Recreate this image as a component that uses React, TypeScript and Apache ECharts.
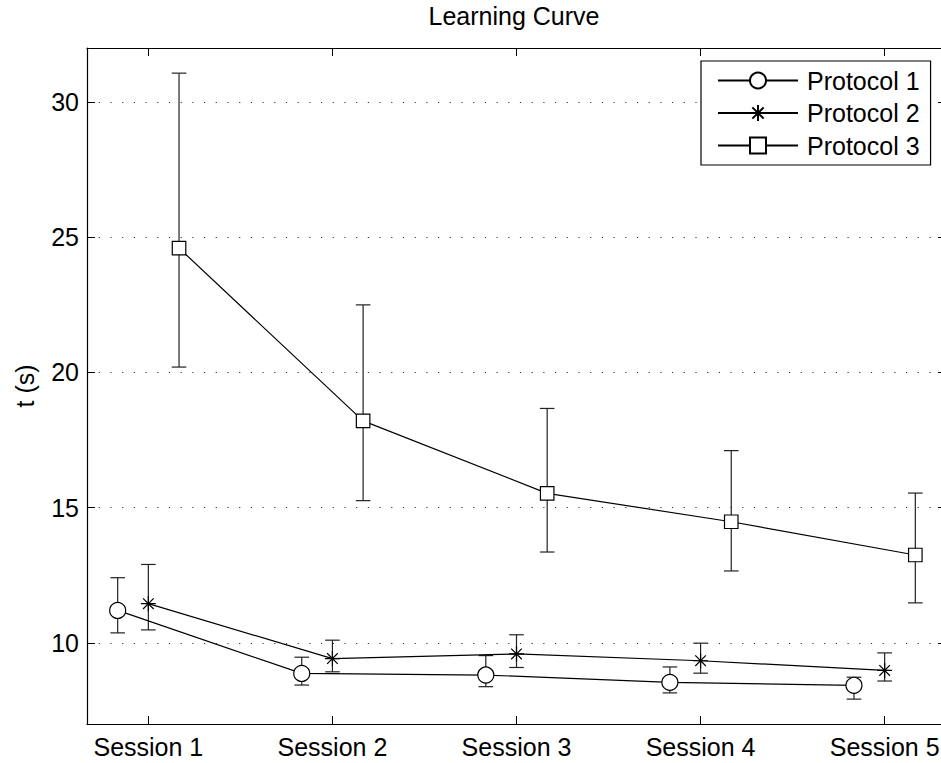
import React, { useEffect, useRef } from 'react';
import * as echarts from 'echarts';

const sessions = [1, 2, 3, 4, 5];
const sessionLabels = ['Session 1', 'Session 2', 'Session 3', 'Session 4', 'Session 5'];
const protocolNames = ['Protocol 1', 'Protocol 2', 'Protocol 3'];

const p1Mean = [11.2, 8.87, 8.81, 8.54, 8.43];
const p1Low = [10.37, 8.44, 8.38, 8.15, 7.92];
const p1High = [12.41, 9.47, 9.53, 9.11, 8.73];

const p2Mean = [11.45, 9.42, 9.59, 9.34, 8.98];
const p2Low = [10.48, 8.93, 9.09, 8.88, 8.59];
const p2High = [12.9, 10.1, 10.3, 9.99, 9.63];

const p3Mean = [24.6, 18.21, 15.53, 14.48, 13.25];
const p3Low = [20.2, 15.26, 13.36, 12.66, 11.48];
const p3High = [31.07, 22.5, 18.67, 17.11, 15.54];

const yTicks = [10, 15, 20, 25, 30];

const FONT = '"Liberation Sans", Arial, Helvetica, sans-serif';
const STAR = 'path://M0,-10L0,10M-10,0L10,0M-7.07,-7.07L7.07,7.07M-7.07,7.07L7.07,-7.07';

export default function App() {
  const ref = useRef<HTMLDivElement>(null);
  useEffect(() => {
    if (!ref.current) return;
    const chart = echarts.init(ref.current, null, { renderer: 'svg' });
    const means = [p1Mean, p2Mean, p3Mean];
    const lows = [p1Low, p2Low, p3Low];
    const highs = [p1High, p2High, p3High];
    const offsets = [-1 / 6, 0, 1 / 6];
    const symbols = ['circle', STAR, 'rect'];
    const sizes = [16, 15, 13.5];

    const series: any[] = [];
    protocolNames.forEach((name, i) => {
      series.push({
        type: 'custom',
        name: name + ' err',
        z: 2,
        silent: true,
        data: sessions.map((s, k) => [s + offsets[i], lows[i][k], highs[i][k]]),
        encode: { x: 0, y: [1, 2] },
        renderItem: (params: any, api: any) => {
          const x = api.value(0);
          const lo = api.coord([x, api.value(1)]);
          const hi = api.coord([x, api.value(2)]);
          const hw = 7.3;
          const st = { stroke: '#222', lineWidth: 1.2 };
          return {
            type: 'group',
            children: [
              { type: 'line', shape: { x1: lo[0], y1: lo[1], x2: hi[0], y2: hi[1] }, style: st },
              { type: 'line', shape: { x1: lo[0] - hw, y1: lo[1], x2: lo[0] + hw, y2: lo[1] }, style: st },
              { type: 'line', shape: { x1: hi[0] - hw, y1: hi[1], x2: hi[0] + hw, y2: hi[1] }, style: st },
            ],
          };
        },
      });
      series.push({
        type: 'line',
        name,
        z: 3,
        data: sessions.map((s, k) => [s + offsets[i], means[i][k]]),
        symbol: symbols[i],
        symbolSize: sizes[i],
        showAllSymbol: true,
        lineStyle: { color: '#000', width: 1.2 },
        itemStyle: {
          color: i === 1 ? '#000' : '#fff',
          borderColor: '#000',
          borderWidth: 1.2,
        },
        emphasis: { disabled: true },
      });
    });

    chart.setOption({
      animation: false,
      backgroundColor: '#fff',
      textStyle: { fontFamily: FONT },
      graphic: [
        {
          type: 'text',
          x: 514,
          y: 16,
          style: {
            text: 'Learning Curve',
            font: `25px ${FONT}`,
            fill: '#000',
            textAlign: 'center',
            textVerticalAlign: 'middle',
          },
        },
      ],
      legend: {
        data: protocolNames,
        orient: 'vertical',
        left: 701,
        top: 61,
        itemWidth: 80,
        itemHeight: 20,
        itemGap: 7.5,
        padding: [7, 11, 7, 16],
        borderColor: '#000',
        borderWidth: 1.2,
        backgroundColor: '#fff',
        selectedMode: false,
        textStyle: { fontSize: 25, color: '#000', fontFamily: FONT, lineHeight: 25, padding: [0, 0, 0, 4] },
      },
      grid: { left: 87, top: 48, width: 859, height: 676, containLabel: false, outerBoundsMode: 'none' },
      xAxis: [
        {
          type: 'value',
          min: 2 / 3,
          max: 16 / 3,
          axisLine: { show: true, lineStyle: { color: '#000', width: 1.2 } },
          axisTick: { show: true, inside: true, length: 8, customValues: sessions, lineStyle: { color: '#000' } },
          axisLabel: {
            show: true,
            customValues: sessions,
            formatter: (v: number) => sessionLabels[Math.round(v) - 1] || '',
            fontSize: 25,
            color: '#000',
            fontFamily: FONT,
            margin: 10,
            hideOverlap: false,
          },
          splitLine: { show: false },
        },
        {
          type: 'value',
          position: 'top',
          min: 2 / 3,
          max: 16 / 3,
          axisLine: { show: true, lineStyle: { color: '#000', width: 1.2 } },
          axisTick: { show: true, inside: true, length: 8, customValues: sessions, lineStyle: { color: '#000' } },
          axisLabel: { show: false },
          splitLine: { show: false },
        },
      ],
      yAxis: [
        {
          type: 'value',
          min: 7,
          max: 32,
          name: 't (s)',
          nameLocation: 'middle',
          nameGap: 50,
          nameTextStyle: { fontSize: 25, color: '#000', fontFamily: FONT },
          axisLine: { show: true, lineStyle: { color: '#000', width: 1.2 } },
          axisTick: { show: true, inside: true, length: 8, customValues: yTicks, lineStyle: { color: '#000' } },
          axisLabel: { show: true, customValues: yTicks, fontSize: 25, color: '#000', fontFamily: FONT, margin: 8 },
          splitLine: {
            show: true,
            lineStyle: { color: '#333', width: 1, type: [1.2, 10.5] },
          },
        },
        {
          type: 'value',
          position: 'right',
          min: 7,
          max: 32,
          axisLine: { show: true, lineStyle: { color: '#000', width: 1.2 } },
          axisTick: { show: true, inside: true, length: 8, customValues: yTicks, lineStyle: { color: '#000' } },
          axisLabel: { show: false },
          splitLine: { show: false },
        },
      ],
      series,
    });
    return () => chart.dispose();
  }, []);
  return (
    <div
      ref={ref}
      style={{ position: 'fixed', left: 0, top: 0, width: 941, height: 763, background: '#fff' }}
    />
  );
}
